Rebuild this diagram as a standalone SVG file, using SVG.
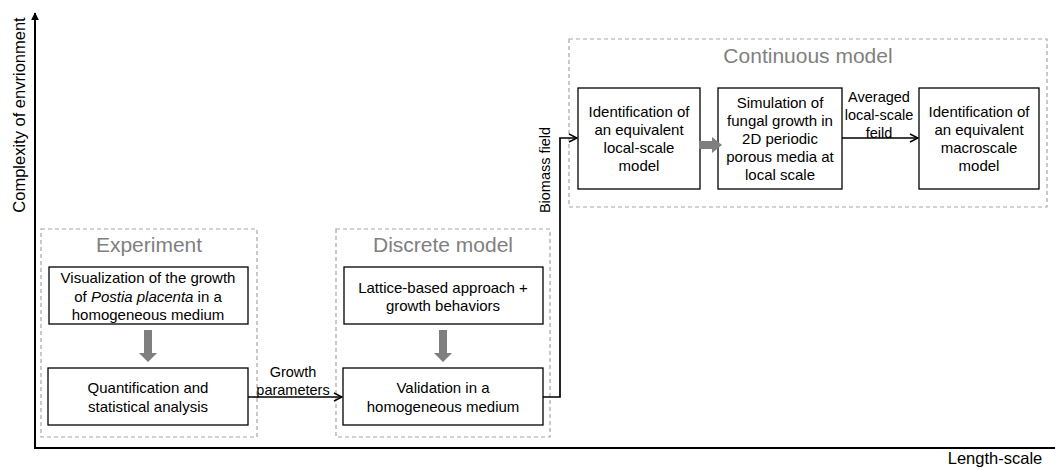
<svg xmlns="http://www.w3.org/2000/svg" width="1055" height="470" viewBox="0 0 1055 470">
<style>
text{font-family:"Liberation Sans",Arial,sans-serif;fill:#000;}
.t{font-size:15px;text-anchor:middle;}
.lbl{font-size:14.5px;text-anchor:middle;}
.title{font-size:21px;fill:#808080;text-anchor:middle;}
.ax{font-size:16.5px;}
.box{fill:#fff;stroke:#000;stroke-width:1.3;}
.grp{fill:none;stroke:#a6a6a6;stroke-width:1.2;stroke-dasharray:4,3;}
.conn{fill:none;stroke:#000;stroke-width:1.7;}
.big{fill:#7f7f7f;}
</style>
<defs>
<marker id="open" viewBox="0 0 10 10" refX="9" refY="5" markerWidth="10" markerHeight="10" markerUnits="userSpaceOnUse" orient="auto">
<path d="M1,1 L9,5 L1,9" fill="none" stroke="#000" stroke-width="1.5"/>
</marker>
<marker id="solid" viewBox="0 0 10 10" refX="9" refY="5" markerWidth="8" markerHeight="8" markerUnits="userSpaceOnUse" orient="auto">
<path d="M0,0 L10,5 L0,10 Z" fill="#000"/>
</marker>
</defs>
<g id="axes">
<line x1="35" y1="448" x2="35" y2="13" stroke="#000" stroke-width="2" marker-end="url(#solid)"/>
<line x1="34" y1="448" x2="1055" y2="448" stroke="#000" stroke-width="2"/>
<text class="ax" transform="translate(24.5,115) rotate(-90)" text-anchor="middle">Complexity of envrionment</text>
<text class="ax" x="995" y="463.5" text-anchor="middle">Length-scale</text>
</g>
<g id="group-experiment">
<rect class="grp" x="41" y="229" width="216" height="208"/>
<text class="title" x="149" y="252">Experiment</text>
</g>
<g id="group-discrete">
<rect class="grp" x="336" y="229" width="214" height="208"/>
<text class="title" x="443" y="252">Discrete model</text>
</g>
<g id="group-continuous">
<rect class="grp" x="569" y="39" width="478" height="168"/>
<text class="title" x="808" y="63">Continuous model</text>
</g>
<g id="node-visualization">
<rect class="box" x="49" y="267" width="199" height="57"/>
<text class="t" x="148" y="283">Visualization of the growth</text>
<text class="t" x="148" y="302">of <tspan font-style="italic">Postia placenta</tspan> in a</text>
<text class="t" x="148" y="320">homogeneous medium</text>
</g>
<g id="node-quantification">
<rect class="box" x="48" y="368" width="200" height="57"/>
<text class="t" x="148" y="393">Quantification and</text>
<text class="t" x="148" y="412">statistical analysis</text>
</g>
<g id="node-lattice">
<rect class="box" x="344" y="267" width="199" height="57"/>
<text class="t" x="443" y="293">Lattice-based approach +</text>
<text class="t" x="443" y="311">growth behaviors</text>
</g>
<g id="node-validation">
<rect class="box" x="343" y="368" width="200" height="57"/>
<text class="t" x="443" y="393">Validation in a</text>
<text class="t" x="443" y="412">homogeneous medium</text>
</g>
<g id="node-local">
<rect class="box" x="578" y="88" width="122" height="101"/>
<text class="t" x="639" y="117">Identification of</text>
<text class="t" x="639" y="135">an equivalent</text>
<text class="t" x="639" y="153">local-scale</text>
<text class="t" x="639" y="171">model</text>
</g>
<g id="node-simulation">
<rect class="box" x="718" y="88" width="124" height="101"/>
<text class="t" x="780" y="108">Simulation of</text>
<text class="t" x="780" y="126">fungal growth in</text>
<text class="t" x="780" y="144">2D periodic</text>
<text class="t" x="780" y="162">porous media at</text>
<text class="t" x="780" y="180">local scale</text>
</g>
<g id="node-macro">
<rect class="box" x="919" y="88" width="120" height="101"/>
<text class="t" x="979" y="117">Identification of</text>
<text class="t" x="979" y="135">an equivalent</text>
<text class="t" x="979" y="153">macroscale</text>
<text class="t" x="979" y="171">model</text>
</g>
<g id="connectors">
<path class="big" d="M144,330 H152 V353 H157 L148,362 L139,353 H144 Z"/>
<path class="big" d="M439,330 H447 V353 H452 L443,362 L434,353 H439 Z"/>
<path class="big" d="M699,141 H712 V137 L722,145 L712,153 V149 H699 Z"/>
<path class="conn" d="M248,397 H342" marker-end="url(#open)"/>
<text class="lbl" x="293" y="377">Growth</text>
<text class="lbl" x="293" y="395">parameters</text>
<path class="conn" d="M543,397 H560 V138 H577" marker-end="url(#open)"/>
<text class="lbl" font-size="15.5" transform="translate(550,170) rotate(-90)">Biomass field</text>
<path class="conn" d="M842,138 H918" marker-end="url(#open)"/>
<text class="lbl" x="879" y="102">Averaged</text>
<text class="lbl" x="879" y="120">local-scale</text>
<text class="lbl" x="879" y="138">feild</text>
</g>
</svg>
